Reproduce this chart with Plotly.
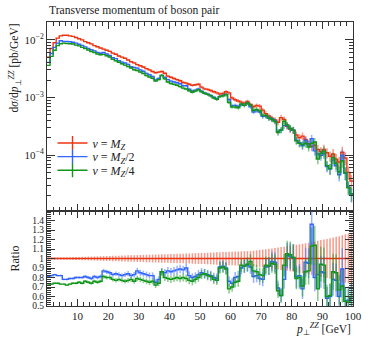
import numpy as np
import plotly.graph_objects as go

# 1 GeV bins from 0 to 100
bin_edges = list(range(0, 101))

# log10 of dsigma/dpT for nu = M_Z (pb/GeV)
red_log = [
    -2.30, -2.15, -2.05, -1.97, -1.93, -1.92, -1.92, -1.93, -1.94, -1.96,
    -1.98, -2.00, -2.03, -2.05, -2.07, -2.10, -2.12, -2.14, -2.16, -2.18,
    -2.20, -2.23, -2.25, -2.28, -2.30, -2.32, -2.35, -2.38, -2.40, -2.43,
    -2.45, -2.47, -2.50, -2.52, -2.55, -2.57, -2.56, -2.55, -2.58, -2.63,
    -2.65, -2.67, -2.69, -2.71, -2.74, -2.75, -2.77, -2.79, -2.78, -2.77,
    -2.82, -2.85, -2.86, -2.88, -2.90, -2.92, -2.94, -2.93, -2.90, -2.92,
    -3.01, -3.04, -3.06, -3.08, -3.10, -3.07, -3.12, -3.16, -3.14, -3.15,
    -3.22, -3.28, -3.32, -3.36, -3.39, -3.43, -3.35, -3.38, -3.50, -3.55,
    -3.57, -3.65, -3.70, -3.67, -3.73, -3.80, -3.85, -3.83, -3.90, -3.94,
    -3.90, -3.96, -4.02, -3.98, -4.07, -4.12, -3.95, -4.05, -4.30, -4.45,
]

# ratio to nu = M_Z
ratio_half = [
    0.81, 0.82, 0.83, 0.82, 0.82, 0.78, 0.78, 0.79, 0.79, 0.80,
    0.80, 0.80, 0.81, 0.80, 0.79, 0.81, 0.80, 0.81, 0.87, 0.86,
    0.85, 0.83, 0.84, 0.83, 0.82, 0.83, 0.84, 0.82, 0.83, 0.87,
    0.85, 0.84, 0.83, 0.82, 0.82, 0.75, 0.78, 0.86, 0.85, 0.87,
    0.86, 0.87, 0.88, 0.89, 0.88, 0.90, 0.82, 0.80, 0.81, 0.83,
    0.85, 0.84, 0.83, 0.82, 0.80, 0.79, 0.91, 0.92, 0.90, 0.76,
    0.74, 0.80, 0.81, 0.90, 0.92, 0.93, 0.91, 0.81, 0.82, 0.79,
    0.78, 0.91, 0.92, 0.97, 0.96, 0.69, 0.61, 0.78, 1.03, 1.02,
    1.01, 0.81, 0.82, 0.68, 0.96, 0.95, 1.36, 0.80, 0.83, 0.86,
    0.85, 0.58, 0.60, 0.78, 0.77, 0.60, 0.89, 0.55, 0.56, 0.58,
]
ratio_quarter = [
    0.72, 0.73, 0.74, 0.74, 0.73, 0.73, 0.72, 0.73, 0.74, 0.74,
    0.75, 0.74, 0.76, 0.75, 0.74, 0.76, 0.75, 0.76, 0.81, 0.80,
    0.80, 0.78, 0.77, 0.78, 0.77, 0.76, 0.77, 0.78, 0.76, 0.79,
    0.78, 0.77, 0.76, 0.75, 0.76, 0.72, 0.74, 0.86, 0.80, 0.79,
    0.78, 0.79, 0.80, 0.79, 0.80, 0.79, 0.77, 0.76, 0.78, 0.80,
    0.83, 0.84, 0.82, 0.81, 0.78, 0.77, 0.90, 0.91, 0.89, 0.68,
    0.70, 0.75, 0.76, 0.93, 0.92, 0.94, 0.97, 0.87, 0.86, 0.83,
    0.82, 0.93, 0.92, 0.95, 0.94, 0.66, 0.61, 0.93, 1.05, 1.04,
    1.01, 0.79, 0.80, 0.71, 0.86, 0.87, 1.13, 1.14, 0.68, 0.94,
    0.93, 0.60, 0.61, 0.86, 0.85, 0.67, 0.71, 0.55, 0.54, 0.60,
]

# relative statistical uncertainty per bin
rel_err = [
    0.012, 0.012, 0.012, 0.012, 0.013, 0.013, 0.014, 0.014, 0.015, 0.016,
    0.017, 0.018, 0.019, 0.020, 0.021, 0.022, 0.023, 0.024, 0.025, 0.026,
    0.027, 0.028, 0.029, 0.030, 0.031, 0.032, 0.033, 0.034, 0.035, 0.036,
    0.037, 0.038, 0.039, 0.040, 0.041, 0.042, 0.043, 0.044, 0.045, 0.046,
    0.047, 0.048, 0.049, 0.050, 0.051, 0.052, 0.053, 0.055, 0.056, 0.057,
    0.058, 0.059, 0.061, 0.062, 0.063, 0.065, 0.066, 0.068, 0.069, 0.071,
    0.072, 0.073, 0.074, 0.075, 0.076, 0.077, 0.078, 0.082, 0.086, 0.090,
    0.094, 0.098, 0.102, 0.106, 0.110, 0.115, 0.120, 0.125, 0.130, 0.135,
    0.140, 0.145, 0.150, 0.155, 0.160, 0.165, 0.172, 0.180, 0.188, 0.195,
    0.200, 0.205, 0.212, 0.220, 0.228, 0.235, 0.245, 0.255, 0.262, 0.270,
]

labels = ["<i>ν</i> = <i>M</i><sub><i>Z</i></sub>",
          "<i>ν</i> = <i>M</i><sub><i>Z</i></sub>/2",
          "<i>ν</i> = <i>M</i><sub><i>Z</i></sub>/4"]
colors = ["#EE3311", "#3366FF", "#109618"]
err_colors = ["rgba(238,51,17,0.5)", "rgba(51,102,255,0.5)", "rgba(16,150,24,0.5)"]
legend_ids = ["legend", "legend2", "legend3"]
legend_tops = [0.625, 0.577, 0.529]

edges = np.array(bin_edges, dtype=float)
centers = 0.5 * (edges[:-1] + edges[1:])
red = 10 ** np.array(red_log)
rel = np.array(rel_err)
ratios = [np.ones(len(red)), np.array(ratio_half), np.array(ratio_quarter)]

FONT = "Liberation Serif"
fig = go.Figure()

for lab, col, ecol, r, lid in zip(labels, colors, err_colors, ratios, legend_ids):
    vals = red * r
    # main panel
    fig.add_trace(go.Scatter(x=centers, y=vals, mode="markers",
                             marker=dict(size=1, color="rgba(0,0,0,0)"),
                             error_y=dict(type="data", array=vals * rel, color=ecol,
                                          thickness=1.5, width=0),
                             showlegend=False, hoverinfo="skip", xaxis="x", yaxis="y"))
    fig.add_trace(go.Scatter(x=edges, y=np.append(vals, vals[-1]), mode="lines",
                             line=dict(color=col, width=1.4, shape="hv"),
                             showlegend=False, xaxis="x", yaxis="y"))
    # ratio panel
    fig.add_trace(go.Scatter(x=centers, y=r, mode="markers",
                             marker=dict(size=1, color="rgba(0,0,0,0)"),
                             error_y=dict(type="data", array=r * rel, color=ecol,
                                          thickness=1.5, width=0),
                             showlegend=False, hoverinfo="skip", xaxis="x2", yaxis="y2"))
    fig.add_trace(go.Scatter(x=edges, y=np.append(r, r[-1]), mode="lines",
                             line=dict(color=col, width=1.4, shape="hv"),
                             showlegend=False, xaxis="x2", yaxis="y2"))
    # legend entry
    fig.add_trace(go.Scatter(x=[None], y=[None], mode="lines+markers", name=lab,
                             legend=lid, line=dict(color=col, width=1.4),
                             marker=dict(symbol="line-ns", size=10,
                                         line=dict(color=col, width=1.4)),
                             xaxis="x", yaxis="y"))

split = 95 / 284
axis_common = dict(showline=True, linecolor="#333", linewidth=1, mirror="allticks",
                   ticks="inside", tickcolor="#333", showgrid=False, zeroline=False,
                   tickfont=dict(family=FONT, size=11, color="#222"))

legend_style = dict(x=0.018, xanchor="left", yanchor="top", bgcolor="rgba(0,0,0,0)",
                    font=dict(family=FONT, size=12, color="#222"), itemwidth=30)

fig.update_layout(
    width=374, height=337,
    margin=dict(l=47, r=12, t=22, b=31),
    plot_bgcolor="white", paper_bgcolor="white",
    font=dict(family=FONT, size=11, color="#222"),
    hovermode=False,
    xaxis=dict(domain=[0, 1], range=[0, 100], anchor="y", showticklabels=False,
               tickvals=list(range(0, 101, 10)), ticklen=7,
               minor=dict(dtick=2, ticks="inside", ticklen=4, tickcolor="#333"),
               **axis_common),
    xaxis2=dict(domain=[0, 1], range=[0, 100], anchor="y2", matches="x",
                tickvals=list(range(10, 101, 10)), ticklen=7,
                minor=dict(dtick=2, ticks="inside", ticklen=4, tickcolor="#333"),
                **axis_common),
    yaxis=dict(domain=[split, 1], type="log", range=[-4.97, -1.69], anchor="x",
               tickvals=[1e-4, 1e-3, 1e-2],
               ticktext=["10<sup>−4</sup>", "10<sup>−3</sup>", "10<sup>−2</sup>"],
               ticklen=8,
               minor=dict(dtick="D1", ticks="inside", ticklen=4, tickcolor="#333"),
               **axis_common),
    yaxis2=dict(domain=[0, split], range=[0.5, 1.5], anchor="x2",
                tickvals=[0.5, 0.6, 0.7, 0.8, 0.9, 1.0, 1.1, 1.2, 1.3, 1.4],
                ticktext=["0.5", "0.6", "0.7", "0.8", "0.9", "1", "1.1", "1.2", "1.3", "1.4"],
                ticklen=8,
                minor=dict(dtick=0.02, ticks="inside", ticklen=4, tickcolor="#333"),
                **{**axis_common, "tickfont": dict(family=FONT, size=9.5, color="#222")}),
    legend=dict(y=legend_tops[0], **legend_style),
    legend2=dict(y=legend_tops[1], **legend_style),
    legend3=dict(y=legend_tops[2], **legend_style),
    showlegend=True,
)

fig.add_annotation(text="Transverse momentum of boson pair", xref="paper", yref="paper",
                   x=0, y=1, yshift=20, xanchor="left", yanchor="top", showarrow=False,
                   font=dict(family=FONT, size=11.6, color="#222"))
fig.add_annotation(text="d<i>σ</i>/d<i>p</i><sub>⊥</sub><sup><i>ZZ</i></sup> [pb/GeV]",
                   xref="paper", yref="paper", x=0, y=1, xshift=-43, textangle=-90,
                   xanchor="left", yanchor="top", showarrow=False,
                   font=dict(family=FONT, size=11.5, color="#222"))
fig.add_annotation(text="Ratio", xref="paper", yref="paper", x=0, y=split / 2,
                   xshift=-42, textangle=-90, xanchor="left", yanchor="middle",
                   showarrow=False, font=dict(family=FONT, size=12, color="#222"))
fig.add_annotation(text="<i>p</i><sub>⊥</sub><sup><i>ZZ</i></sup> [GeV]", xref="paper",
                   yref="paper", x=1, y=0, yshift=-13, xanchor="right", yanchor="top",
                   showarrow=False, font=dict(family=FONT, size=11.5, color="#222"))

# drop the default body margin so the figure sits at the window corner
fig.write_html("out.html", config={"displayModeBar": False},
               post_script="document.body.style.margin='0';")
